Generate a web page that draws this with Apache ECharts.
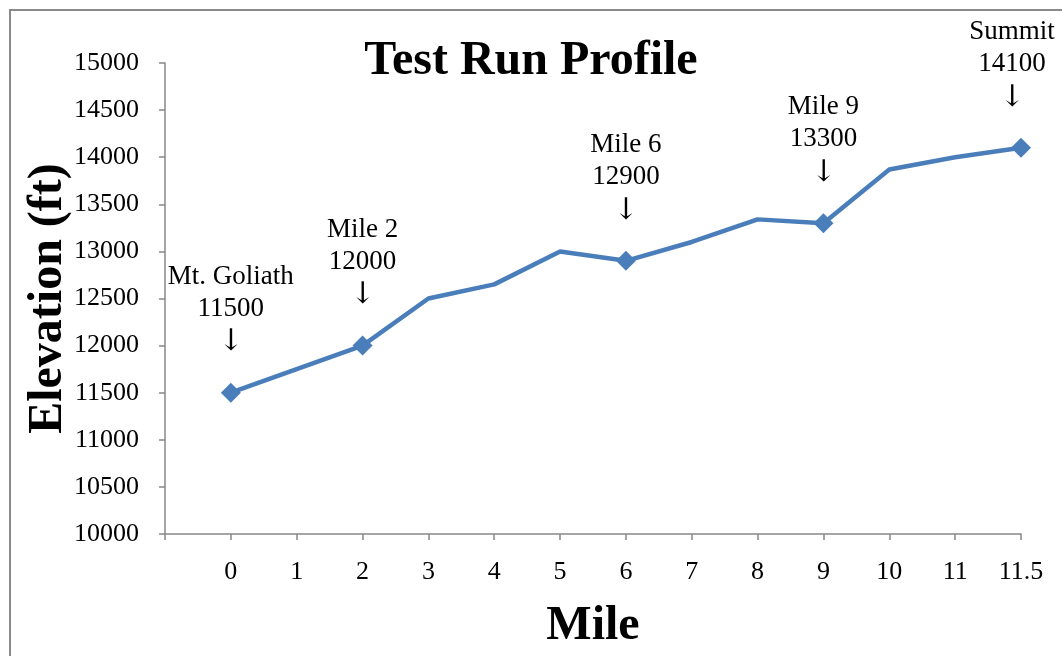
<!DOCTYPE html>
<html>
<head>
<meta charset="utf-8">
<title>Test Run Profile</title>
<script src="https://cdn.jsdelivr.net/npm/echarts@6/dist/echarts.min.js"></script>
<style>
  html, body { margin: 0; padding: 0; background: #fff; }
  #chart { width: 1062px; height: 656px; }
</style>
</head>
<body>
<div id="chart"></div>
<script>
// first category is an empty slot so "0" sits one step in from the y axis
const miles = ["", "0", "1", "2", "3", "4", "5", "6", "7", "8", "9", "10", "11", "11.5"];
const elevation = ["-", 11500, 11750, 12000, 12500, 12650, 13000, 12900, 13100, 13340, 13300, 13870, 14000, 14100];
const markerNames = ["", "Mt. Goliath", "", "Mile 2", "", "", "", "Mile 6", "", "", "Mile 9", "", "", "Summit"];
const yTicks = { min: 10000, max: 15000, step: 500 };

const serif = "Liberation Serif";

let seriesData = elevation.map((v, i) => {
  if (!markerNames[i]) {
    return { value: v, symbol: "none" };
  }
  return {
    value: v,
    symbol: "diamond",
    symbolSize: 20,
    label: {
      show: true,
      position: "top",
      distance: 22,
      offset: i === elevation.length - 1 ? [-9, 0] : [0, 0],
      formatter: "{n|" + markerNames[i] + "}\n{n|" + v + "}\n{a|↓}",
      rich: {
        n: { fontFamily: serif, fontSize: 27, color: "#000", lineHeight: 32, align: "center" },
        a: { fontFamily: "DejaVu Serif", fontSize: 30, color: "#000", lineHeight: 36, align: "center" },
      },
    },
  };
});

let options = {
  animation: false,
  backgroundColor: "#fff",
  title: {
    text: "Test Run Profile",
    left: "center",
    top: 33,
    textStyle: {
      fontFamily: serif,
      fontSize: 48,
      fontWeight: "bold",
      color: "#000",
    },
  },
  graphic: [
    {
      type: "rect",
      shape: { x: 10, y: 10, width: 1100, height: 700 },
      style: { fill: "none", stroke: "#8a8a8a", lineWidth: 2 },
      silent: true,
    },
  ],
  grid: {
    left: 165,
    right: 41,
    top: 63,
    bottom: 121,
  },
  xAxis: {
    type: "category",
    data: miles,
    boundaryGap: false,
    name: "Mile",
    nameLocation: "middle",
    nameGap: 69,
    nameTextStyle: {
      fontFamily: serif,
      fontSize: 48,
      fontWeight: "bold",
      color: "#000",
    },
    axisLine: { show: true, lineStyle: { color: "#888", width: 1.5 } },
    axisTick: { show: true, length: 6, inside: false, lineStyle: { color: "#888", width: 1.5 } },
    axisLabel: {
      interval: 0,
      margin: 25,
      fontFamily: serif,
      fontSize: 26,
      color: "#000",
    },
    splitLine: { show: false },
  },
  yAxis: {
    type: "value",
    min: yTicks.min,
    max: yTicks.max,
    interval: yTicks.step,
    name: "Elevation (ft)",
    nameLocation: "middle",
    nameGap: 92,
    nameMoveOverlap: false,
    nameTextStyle: {
      fontFamily: serif,
      fontSize: 48,
      fontWeight: "bold",
      color: "#000",
    },
    axisLine: { show: true, lineStyle: { color: "#888", width: 1.5 } },
    axisTick: { show: true, length: 6, lineStyle: { color: "#888", width: 1.5 } },
    axisLabel: {
      margin: 26,
      fontFamily: serif,
      fontSize: 26,
      color: "#000",
      formatter: (val) => String(val),
    },
    splitLine: { show: false },
  },
  series: [
    {
      type: "line",
      data: seriesData,
      symbol: "diamond",
      showSymbol: true,
      lineStyle: { color: "#4a7ebb", width: 4.5 },
      itemStyle: { color: "#4a7ebb" },
      emphasis: { disabled: true },
    },
  ],
};

let eChart = echarts.init(document.getElementById("chart"));
eChart.setOption(options);
</script>
</body>
</html>
